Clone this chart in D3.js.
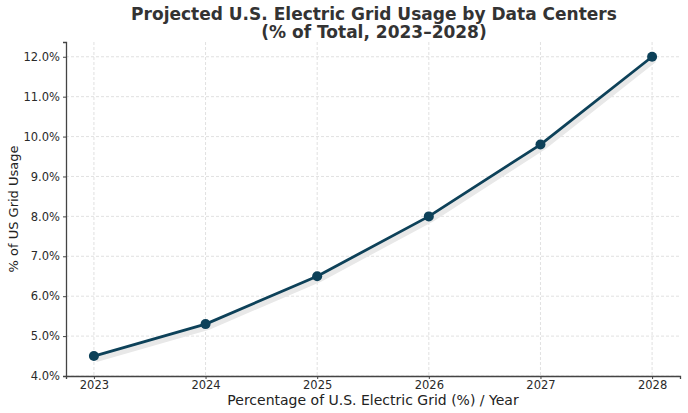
<!DOCTYPE html>
<html>
<head>
<meta charset="utf-8">
<script src="https://cdn.jsdelivr.net/npm/d3@7"></script>
<style>
  body { margin: 0; background: #fff; }
  text { font-family: "DejaVu Sans", sans-serif; }
</style>
</head>
<body>
<svg id="chart"></svg>
<script>
// data
const years = [2023, 2024, 2025, 2026, 2027, 2028];
const usage = [4.5, 5.3, 6.5, 8.0, 9.8, 12.0];
const yTicks = [4, 5, 6, 7, 8, 9, 10, 11, 12];

const width = 688, height = 413;
const margin = {top: 42, right: 8, bottom: 37, left: 66};
const innerW = width - margin.left - margin.right;
const innerH = height - margin.top - margin.bottom;

const svg = d3.select('#chart')
    .attr('width', width)
    .attr('height', height);

const chart = svg.append('g')
    .attr('transform', `translate(${margin.left},${margin.top})`);

const xScale = d3.scaleLinear()
    .domain([2022.75, 2028.25])
    .range([0, innerW]);

const yScale = d3.scaleLinear()
    .domain([4.0, 12.37])
    .range([innerH, 0]);

// grid
chart.append('g')
    .selectAll('line')
    .data(yTicks)
    .join('line')
    .attr('x1', 0).attr('x2', innerW)
    .attr('y1', d => yScale(d)).attr('y2', d => yScale(d))
    .attr('stroke', '#d9d9d9')
    .attr('stroke-width', 0.8)
    .attr('stroke-dasharray', '3,2');

chart.append('g')
    .selectAll('line')
    .data(years)
    .join('line')
    .attr('x1', d => xScale(d)).attr('x2', d => xScale(d))
    .attr('y1', 0).attr('y2', innerH)
    .attr('stroke', '#d9d9d9')
    .attr('stroke-width', 0.8)
    .attr('stroke-dasharray', '3,2');

// axes
const xAxis = chart.append('g')
    .attr('transform', `translate(0,${innerH})`)
    .call(d3.axisBottom(xScale).tickValues(years).tickFormat(d3.format('d')).tickSize(3).tickPadding(2));

const yAxis = chart.append('g')
    .call(d3.axisLeft(yScale).tickValues(yTicks).tickFormat(d => d.toFixed(1) + '%').tickSize(3).tickPadding(3));

[xAxis, yAxis].forEach(a => {
  a.select('.domain').attr('stroke', '#444').attr('stroke-width', 1.3);
  a.selectAll('.tick line').attr('stroke', '#444');
  a.selectAll('.tick text').attr('fill', '#2a2a2a').style('font-size', '11.5px');
});

// line with soft shadow
const line = d3.line()
    .x((d, i) => xScale(years[i]))
    .y(d => yScale(d));

chart.append('path')
    .datum(usage)
    .attr('d', line)
    .attr('transform', 'translate(2,3)')
    .attr('fill', 'none')
    .attr('stroke', '#e8e8e8')
    .attr('stroke-width', 6)
    .attr('stroke-linejoin', 'round');

chart.append('path')
    .datum(usage)
    .attr('d', line)
    .attr('fill', 'none')
    .attr('stroke', '#0d4159')
    .attr('stroke-width', 2.8)
    .attr('stroke-linejoin', 'round');

chart.append('g')
    .selectAll('circle')
    .data(usage)
    .join('circle')
    .attr('cx', (d, i) => xScale(years[i]))
    .attr('cy', d => yScale(d))
    .attr('r', 5)
    .attr('fill', '#0d4159');

// titles
svg.append('text')
    .attr('x', 374).attr('y', 20)
    .attr('text-anchor', 'middle')
    .style('font-size', '17px').style('font-weight', 'bold')
    .attr('fill', '#333')
    .text('Projected U.S. Electric Grid Usage by Data Centers');

svg.append('text')
    .attr('x', 374).attr('y', 38)
    .attr('text-anchor', 'middle')
    .style('font-size', '17px').style('font-weight', 'bold')
    .attr('fill', '#333')
    .text('(% of Total, 2023–2028)');

svg.append('text')
    .attr('x', margin.left + innerW / 2).attr('y', 405)
    .attr('text-anchor', 'middle')
    .style('font-size', '14px')
    .attr('fill', '#222')
    .text('Percentage of U.S. Electric Grid (%) / Year');

svg.append('text')
    .attr('transform', `translate(18,${margin.top + innerH / 2}) rotate(-90)`)
    .attr('text-anchor', 'middle')
    .style('font-size', '13px')
    .attr('fill', '#222')
    .text('% of US Grid Usage');
</script>
</body>
</html>
